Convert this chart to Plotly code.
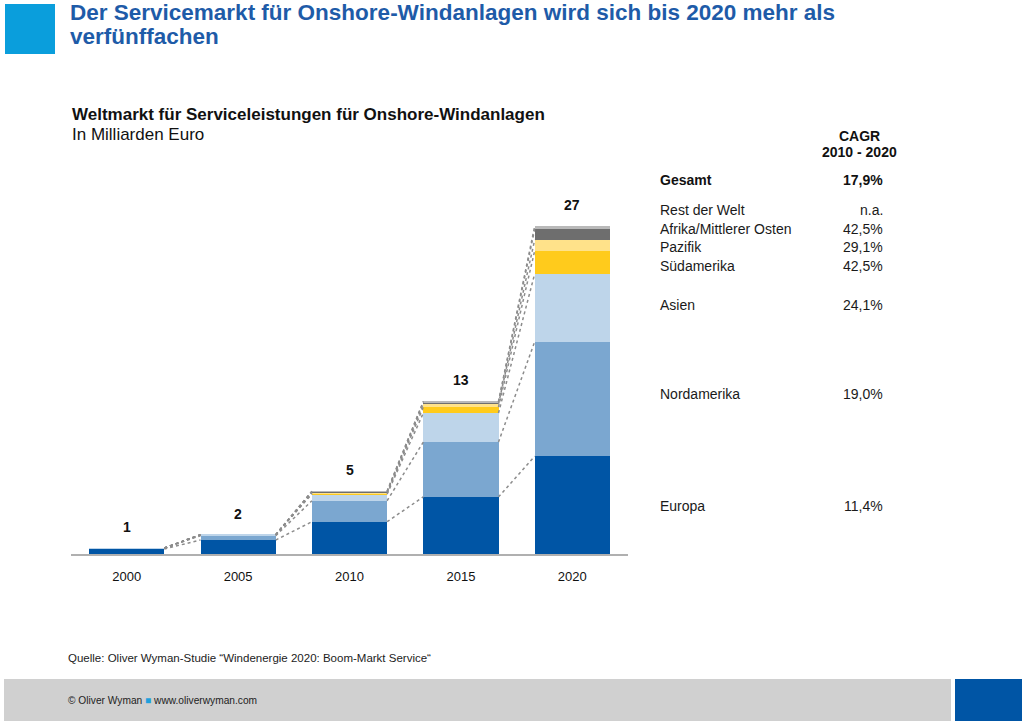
import plotly.graph_objects as go

# ---------------- data ----------------
years = ["2000", "2005", "2010", "2015", "2020"]
total_labels = ["1", "2", "5", "13", "27"]

europa      = [0.42, 1.15, 2.66, 4.71, 8.05]
nordamerika = [0.06, 0.36, 1.73, 4.52, 9.45]
asien       = [0.01, 0.08, 0.55, 2.39, 5.60]
suedamerika = [0.00, 0.00, 0.08, 0.49, 1.90]
pazifik     = [0.00, 0.00, 0.08, 0.25, 0.90]
afrika      = [0.00, 0.00, 0.06, 0.17, 0.88]
rest        = [0.00, 0.00, 0.02, 0.05, 0.25]

series_names = ["Europa", "Nordamerika", "Asien", "Südamerika", "Pazifik",
                "Afrika/Mittlerer Osten", "Rest der Welt"]
series_values = [europa, nordamerika, asien, suedamerika, pazifik, afrika, rest]
series_colors = ["#0055A5", "#7BA7D0", "#BED5EA", "#FFCB1C", "#FFE28A",
                 "#6E6E6E", "#B9B9B9"]

cagr_labels = ["Rest der Welt", "Afrika/Mittlerer Osten", "Pazifik", "Südamerika",
               "Asien", "Nordamerika", "Europa"]
cagr_values = ["n.a.", "42,5%", "29,1%", "42,5%", "24,1%", "19,0%", "11,4%"]
gesamt_cagr = "17,9%"

FONT = "Liberation Sans, Arial, Helvetica, sans-serif"

# ---------------- geometry ----------------
L, R, T, B = 71, 628, 190, 554
W, PH = R - L, B - T
BAR_W = 0.675


def px(x):
    return (x - L) / W


def py(y):
    return (B - y) / PH


fig = go.Figure()
xs = list(range(len(years)))

for name, vals, col in zip(series_names, series_values, series_colors):
    fig.add_trace(go.Bar(x=xs, y=vals, name=name, marker_color=col,
                         marker_line_width=0, width=BAR_W, hoverinfo="skip"))

# dotted connectors between segment tops
cum = [0.0] * len(years)
for vals in series_values:
    cum = [c + v for c, v in zip(cum, vals)]
    lx, ly = [], []
    for i in range(len(years) - 1):
        lx += [xs[i] + BAR_W / 2, xs[i + 1] - BAR_W / 2, None]
        ly += [cum[i], cum[i + 1], None]
    fig.add_trace(go.Scatter(x=lx, y=ly, mode="lines",
                             line=dict(color="#8C8C8C", width=1.5, dash="dot"),
                             hoverinfo="skip", showlegend=False))

totals = cum
annotations = []
for i, (t, lab) in enumerate(zip(totals, total_labels)):
    annotations.append(dict(x=xs[i], y=t, text=f"<b>{lab}</b>", showarrow=False,
                            yanchor="bottom", yshift=11,
                            font=dict(size=14, color="#111", family=FONT)))


def txt(x, y, text, size=13, anchor="left", color="#1a1a1a", bold=False):
    if bold:
        text = f"<b>{text}</b>"
    if anchor == "left":
        x -= 2
    elif anchor == "right":
        x += 2
    annotations.append(dict(xref="paper", yref="paper", x=px(x), y=py(y),
                            text=text, showarrow=False, xanchor=anchor,
                            yanchor="middle",
                            font=dict(size=size, color=color, family=FONT)))


# Title
txt(70, 13, "Der Servicemarkt für Onshore-Windanlagen wird sich bis 2020 mehr als",
    size=22.5, color="#1E5BA8", bold=True)
txt(70, 37, "verfünffachen", size=22.5, color="#1E5BA8", bold=True)

# Subtitle
txt(72, 114, "Weltmarkt für Serviceleistungen für Onshore-Windanlagen", size=17, bold=True, color="#111")
txt(72, 134, "In Milliarden Euro", size=17, color="#111")

# CAGR table
txt(859, 136, "CAGR", size=14, anchor="center", bold=True, color="#111")
txt(859, 152, "2010 - 2020", size=14, anchor="center", bold=True, color="#111")
txt(660, 180, "Gesamt", size=14, bold=True, color="#111")
txt(883, 180, gesamt_cagr, size=14, anchor="right", bold=True, color="#111")
row_y = [210, 229, 247, 266, 305, 394, 506]
for yy, lab, val in zip(row_y, cagr_labels, cagr_values):
    txt(660, yy, lab, size=14)
    txt(883, yy, val, size=14, anchor="right")

# Source
txt(68, 658, "Quelle: Oliver Wyman-Studie “Windenergie 2020: Boom-Markt Service“", size=11.5, color="#222")

# Footer text
txt(68, 700, "© Oliver Wyman <span style='color:#1FA0DC'>■</span> www.oliverwyman.com",
    size=10.2, color="#222")

shapes = [
    dict(type="rect", xref="paper", yref="paper", x0=px(5), x1=px(55), y0=py(4), y1=py(54),
         fillcolor="#0A9EDC", line_width=0, layer="below"),
    dict(type="rect", xref="paper", yref="paper", x0=px(4), x1=px(951), y0=py(679), y1=py(721),
         fillcolor="#D0D0D0", line_width=0, layer="below"),
    dict(type="rect", xref="paper", yref="paper", x0=px(955), x1=px(1022), y0=py(679), y1=py(721),
         fillcolor="#0055A5", line_width=0, layer="below"),
]

fig.update_layout(
    width=1024, height=725,
    margin=dict(l=L, r=1024 - R, t=T, b=725 - B, pad=0),
    paper_bgcolor="white", plot_bgcolor="white",
    barmode="stack", showlegend=False,
    annotations=annotations, shapes=shapes,
    font=dict(family=FONT, color="#111"),
    xaxis=dict(range=[-0.5, len(years) - 0.5], tickvals=xs, ticktext=years,
               showgrid=False, zeroline=False, showline=True, linecolor="#B0B0B0",
               linewidth=2, ticks="outside", ticklen=9, tickcolor="rgba(0,0,0,0)",
               tickfont=dict(size=13, color="#111", family=FONT), fixedrange=True),
    yaxis=dict(range=[0, PH / 12.13], visible=False, showgrid=False, zeroline=False,
               fixedrange=True),
)

fig.write_html("out.html")
